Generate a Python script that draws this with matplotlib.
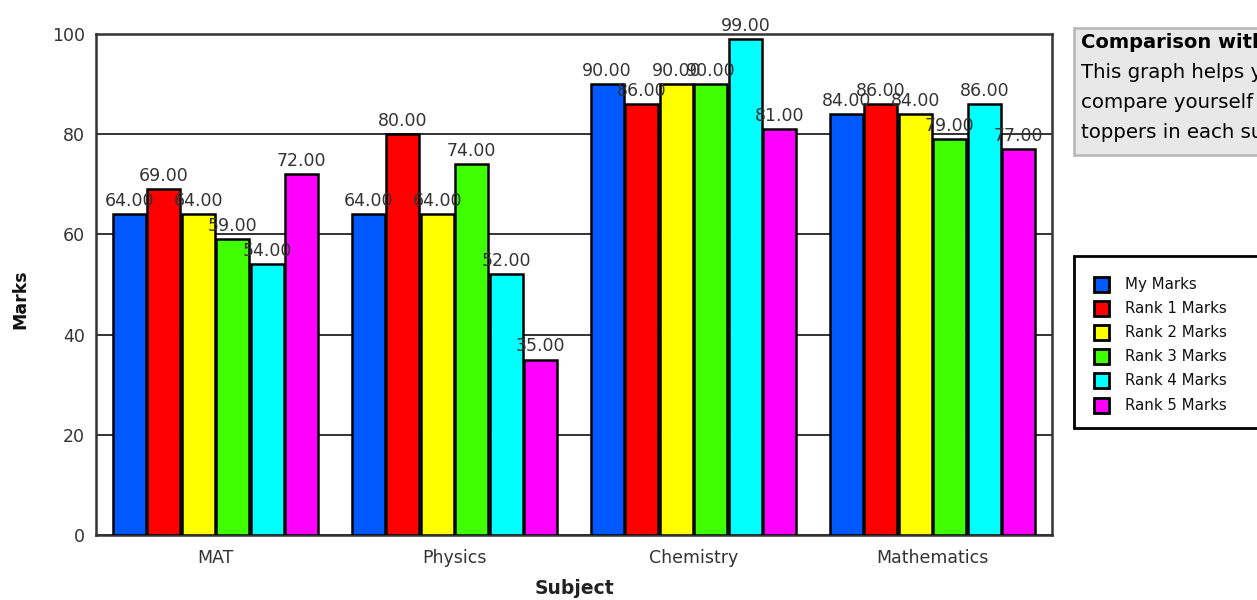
import numpy as np
import matplotlib
matplotlib.use("Agg")
import matplotlib.pyplot as plt
from matplotlib.patches import Rectangle

plt.rcParams['font.family'] = ['DejaVu Sans']

# data
subjects = ["MAT", "Physics", "Chemistry", "Mathematics"]
series_names = ["My Marks", "Rank 1 Marks", "Rank 2 Marks", "Rank 3 Marks",
                "Rank 4 Marks", "Rank 5 Marks"]
my_marks = [64, 64, 90, 84]
rank1 = [69, 80, 86, 86]
rank2 = [64, 64, 90, 84]
rank3 = [59, 74, 90, 79]
rank4 = [54, 52, 99, 86]
rank5 = [72, 35, 81, 77]
colors = ["#0058FF", "#FF0000", "#FFFF00", "#40FF00", "#00FFFF", "#FF00FF"]

all_series = [my_marks, rank1, rank2, rank3, rank4, rank5]

W, H = 1257, 600
fig = plt.figure(figsize=(W / 100, H / 100), dpi=100)

def px(x0, y0, x1, y1):
    # pixel box -> figure fraction [left, bottom, width, height]
    return [x0 / W, 1 - y1 / H, (x1 - x0) / W, (y1 - y0) / H]

ax = fig.add_axes(px(96, 34, 1052, 535))

x = np.arange(len(subjects))
bw = 0.1445
for i, vals in enumerate(all_series):
    pos = x - 2.5 * bw + i * bw
    bars = ax.bar(pos, vals, width=bw * 0.96, color=colors[i], edgecolor="black",
                  linewidth=1.8, zorder=3)
    for b, v in zip(bars, vals):
        ax.annotate(f"{v:.2f}", (b.get_x() + b.get_width() / 2, v),
                    xytext=(0, 3), textcoords="offset points", ha="center",
                    va="bottom", fontsize=12.5, color="#333333", zorder=5)

ax.set_xlim(-0.5, len(subjects) - 0.5)
ax.set_ylim(0, 100)
ax.set_yticks(range(0, 101, 20))
ax.set_xticks(x)
ax.set_xticklabels(subjects)
ax.tick_params(length=0, labelsize=12.5, colors="#333333")
ax.tick_params(axis="x", pad=10)
ax.tick_params(axis="y", pad=8)
ax.yaxis.grid(True, color="#222222", linewidth=1.3, zorder=0)
ax.set_axisbelow(True)
for s in ax.spines.values():
    s.set_color("#333333")
    s.set_linewidth(1.8)

ax.set_xlabel("Subject", fontsize=13.5, fontweight="bold", color="#222222", va="center")
ax.xaxis.set_label_coords(0.5, -(588 - 535) / 501)
ax.set_ylabel("Marks", fontsize=12.5, fontweight="bold", color="#111111", va="center")
ax.yaxis.set_label_coords(-(96 - 20) / 956, 0.47)

# info box
fig.patches.append(Rectangle((1074 / W, 1 - 155 / H), 200 / W, 127 / H,
                             transform=fig.transFigure, facecolor="#E8E8E8",
                             edgecolor="#BBBBBB", linewidth=2))
fig.text(1081 / W, 1 - 43 / H, "Comparison with Toppers", fontsize=14,
         fontweight="bold", va="center", color="black")
info_lines = ["This graph helps you to", "compare yourself with the",
              "toppers in each subject"]
for k, line in enumerate(info_lines):
    fig.text(1081 / W, 1 - (72 + k * 30) / H, line, fontsize=14.2,
             va="center", color="black")

# legend box
fig.patches.append(Rectangle((1074 / W, 1 - 428 / H), 200 / W, 172 / H,
                             transform=fig.transFigure, facecolor="white",
                             edgecolor="black", linewidth=2))
for k, (name, c) in enumerate(zip(series_names, colors)):
    yc = 284 + k * 24.2
    fig.patches.append(Rectangle((1094 / W, 1 - (yc + 7.5) / H), 15 / W, 15 / H,
                                 transform=fig.transFigure, facecolor=c,
                                 edgecolor="black", linewidth=2))
    fig.text(1125 / W, 1 - yc / H, name, fontsize=10.8, va="center",
             color="#111111")

fig.savefig("out.png", dpi=100)
